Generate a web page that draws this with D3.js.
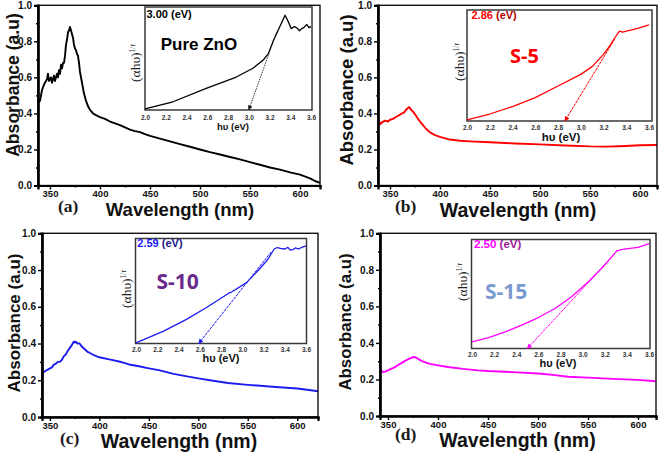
<!DOCTYPE html>
<html><head><meta charset="utf-8">
<script src="https://cdn.jsdelivr.net/npm/d3@7"></script>
<style>body{margin:0;background:#fff}</style>
</head><body>
<svg id="chart" width="661" height="452"></svg>
<script>
// ---------- DATA ----------
const yTicks = [0.0, 0.2, 0.4, 0.6, 0.8, 1.0];
const yMinorTicks = [0.1, 0.3, 0.5, 0.7, 0.9];
const xTicks = [350, 400, 450, 500, 550, 600];
const xMinorTicks = [375, 425, 475, 525, 575];
const insetTicks = [2.0, 2.2, 2.4, 2.6, 2.8, 3.0, 3.2, 3.4, 3.6];
const panelLetters = ["(a)", "(b)", "(c)", "(d)"];
const sampleNames = ["Pure ZnO", "S-5", "S-10", "S-15"];
const bandGaps = ["3.00", "2.86", "2.59", "2.50"];

// (a) Pure ZnO
const wlA = [338,340,342,344,345,347,348,349,351,352,354,355,357,358,359,360,361,362,363,364,365,366,367,368,369,370,371,372,373,374,375,376,377,378,379,380,382,384,386,388,390,393,396,400,405,410,415,420,425,430,435,440,445,450,460,470,480,490,500,510,520,530,540,550,560,570,580,590,600,610,615,620];
const absA = [0.46,0.47,0.53,0.56,0.57,0.59,0.62,0.58,0.60,0.57,0.61,0.58,0.62,0.60,0.64,0.62,0.67,0.65,0.68,0.68,0.72,0.78,0.81,0.85,0.86,0.88,0.86,0.84,0.82,0.78,0.76,0.75,0.73,0.72,0.68,0.63,0.57,0.51,0.47,0.44,0.42,0.40,0.39,0.38,0.37,0.355,0.345,0.335,0.322,0.31,0.302,0.296,0.285,0.275,0.26,0.245,0.23,0.215,0.20,0.185,0.172,0.158,0.145,0.13,0.115,0.10,0.088,0.073,0.06,0.04,0.025,0.015];
const hvA = [2.0,2.27,2.59,2.88,3.04,3.14,3.19,3.24,3.30,3.35,3.38,3.41,3.44,3.46,3.49,3.51,3.53,3.56,3.58,3.6];
const tlA = [0.01,0.08,0.21,0.32,0.405,0.485,0.55,0.68,0.81,0.92,0.86,0.79,0.81,0.80,0.77,0.79,0.80,0.83,0.80,0.81];
const tangentHvA = [3.27, 3.00];
const tangentTlA = [0.76, 0.0];

// (b) S-5
const wlB = [338,339,340,342,345,348,350,353,356,359,362,364,366,368,369,370,371,373,375,378,380,383,386,390,395,400,410,420,430,450,475,500,525,550,565,580,600,617];
const absB = [0.35,0.36,0.34,0.35,0.36,0.355,0.365,0.37,0.38,0.39,0.40,0.405,0.42,0.43,0.435,0.43,0.42,0.41,0.395,0.37,0.355,0.335,0.315,0.295,0.28,0.27,0.255,0.248,0.245,0.24,0.233,0.228,0.222,0.217,0.216,0.218,0.223,0.225];
const hvB = [2.0,2.2,2.4,2.6,2.8,3.0,3.1,3.2,3.25,3.3,3.34,3.37,3.4,3.45,3.5,3.55,3.6];
const tlB = [0.01,0.063,0.13,0.21,0.315,0.42,0.49,0.60,0.67,0.75,0.81,0.80,0.81,0.82,0.835,0.85,0.865];
const tangentHvB = [3.30, 2.86];
const tangentTlB = [0.74, 0.0];

// (c) S-10
const wlC = [342,343,345,347,350,352,354,356,358,360,362,364,366,368,370,372,374,375,376,378,380,382,385,388,390,395,400,410,420,425,430,440,450,460,475,490,500,515,530,550,575,600,610,621];
const absC = [0.20,0.24,0.25,0.255,0.265,0.27,0.285,0.29,0.30,0.30,0.31,0.33,0.34,0.36,0.375,0.39,0.41,0.405,0.41,0.40,0.40,0.385,0.37,0.355,0.35,0.335,0.325,0.314,0.302,0.295,0.286,0.276,0.265,0.255,0.235,0.22,0.21,0.197,0.185,0.175,0.165,0.155,0.148,0.14];
const hvC = [2.0,2.26,2.475,2.66,2.88,2.9,3.04,3.16,3.24,3.30,3.33,3.36,3.4,3.43,3.45,3.48,3.5,3.53,3.56,3.6];
const tlC = [0.006,0.118,0.23,0.34,0.484,0.49,0.58,0.707,0.80,0.90,0.914,0.905,0.90,0.915,0.89,0.895,0.91,0.90,0.915,0.93];
const tangentHvC = [3.27, 2.59];
const tangentTlC = [0.87, 0.0];

// (d) S-15
const wlD = [342,343,345,347,350,353,356,359,362,365,368,371,374,376,378,381,384,388,392,400,410,425,440,450,475,500,515,530,550,575,600,618];
const absD = [0.265,0.25,0.24,0.243,0.25,0.258,0.265,0.275,0.285,0.295,0.305,0.313,0.32,0.323,0.32,0.31,0.30,0.292,0.285,0.277,0.268,0.258,0.25,0.246,0.24,0.233,0.225,0.215,0.21,0.203,0.198,0.19];
const hvD = [2.0,2.15,2.30,2.45,2.60,2.75,2.90,3.05,3.17,3.25,3.31,3.35,3.41,3.50,3.56,3.6];
const tlD = [0.06,0.10,0.153,0.214,0.284,0.367,0.474,0.61,0.734,0.826,0.896,0.908,0.917,0.927,0.948,0.963];
const tangentHvD = [3.22, 2.50];
const tangentTlD = [0.79, 0.0];

// ---------- STYLE / LAYOUT ----------
const curveColors = ["#000000", "#ff0000", "#1c1cf0", "#ff00ff"];
const gapColors = ["#000000", "#ff0000", "#1a1aff", "#ff00ff"];
const evColors = ["#000000", "#b00000", "#16168a", "#9a1496"];
const nameColors = ["#000000", "#ff0000", "#6a2a8c", "#7a9ad0"];
const nameFonts = ["'Liberation Sans', Arial, sans-serif", "'Open Sans', sans-serif", "'Open Sans', sans-serif", "'Open Sans', sans-serif"];

const layouts = [
  {l:38, r:320, t:5.3, b:185.5, xd:[338,620], pad:1, let:{x:58,y:211.5}, xt:{cx:180,y:216,fs:18.5}, yt:{x:19.3,cy:85,fs:17.6},
   ins:{l:145,r:312,t:7,b:110,x0:145,x1:311,tickY:119.5,htX:233,htY:129.5,htFs:9.5,ylX:140,ylY:63,gX:146.5,gY:18.3,gFs:11,nX:160.7,nY:50,nFs:17}},
  {l:378, r:657, t:5.3, b:185.5, xd:[338,617], pad:1, let:{x:395,y:211.5}, xt:{cx:518,y:216.5,fs:19.5}, yt:{x:353,cy:90,fs:18.5},
   ins:{l:467,r:652,t:10,b:121,x0:467,x1:649,tickY:130,htX:561,htY:140.5,htFs:11.5,ylX:464,ylY:62,gX:471.5,gY:19.3,gFs:11,nX:510,nY:63.3,nFs:20}},
  {l:42, r:318, t:233.3, b:417, xd:[342,621], pad:1, let:{x:60,y:443.5}, xt:{cx:179,y:447.5,fs:19.5}, yt:{x:19.5,cy:323,fs:17},
   ins:{l:135.5,r:306.5,t:238.5,b:343.5,x0:136,x1:306,tickY:352,htX:221,htY:361.5,htFs:11,ylX:130.5,ylY:289,gX:137.3,gY:246.7,gFs:11,nX:156.5,nY:288.7,nFs:21}},
  {l:380, r:656, t:233.3, b:416, xd:[342,618], pad:1, let:{x:395,y:440}, xt:{cx:517.5,y:446.5,fs:19.5}, yt:{x:351,cy:322,fs:16.8},
   ins:{l:471.5,r:650,t:239.5,b:348.5,x0:472,x1:649,tickY:357,htX:558,htY:366.5,htFs:11,ylX:466.5,ylY:282,gX:474,gY:248.3,gFs:11.5,nX:485,nY:299.3,nFs:21}}
];

const panels = [
  {wl:wlA, ab:absA, hv:hvA, tl:tlA, th:tangentHvA, tt:tangentTlA},
  {wl:wlB, ab:absB, hv:hvB, tl:tlB, th:tangentHvB, tt:tangentTlB},
  {wl:wlC, ab:absC, hv:hvC, tl:tlC, th:tangentHvC, tt:tangentTlC},
  {wl:wlD, ab:absD, hv:hvD, tl:tlD, th:tangentHvD, tt:tangentTlD}
];

const svg = d3.select("#chart");
svg.append("rect").attr("width",661).attr("height",452).attr("fill","#fff");
const defs = svg.append("defs");
curveColors.forEach((c,i) => {
  defs.append("marker").attr("id","arr"+i).attr("viewBox","0 0 10 10").attr("refX",9).attr("refY",5)
    .attr("markerWidth",5).attr("markerHeight",5).attr("orient","auto-start-reverse")
    .append("path").attr("d","M0,0L10,5L0,10z").attr("fill", i===0 ? "#222" : c);
});

const sans = "'Liberation Sans', Arial, sans-serif";

panels.forEach((p, i) => {
  const L = layouts[i];
  const g = svg.append("g");
  const x = d3.scaleLinear().domain(L.xd).range([L.l, L.r]);
  const y = d3.scaleLinear().domain([0, 1]).range([L.b, L.t]);

  const line = d3.line().x((d,k) => x(p.wl[k])).y((d,k) => y(p.ab[k]));
  g.append("path").datum(p.wl).attr("d", line).attr("fill","none")
    .attr("stroke", curveColors[i]).attr("stroke-width", 1.9).attr("stroke-linejoin","round");

  g.append("rect").attr("x",L.l).attr("y",L.t).attr("width",L.r-L.l).attr("height",L.b-L.t)
    .attr("fill","none").attr("stroke","#111").attr("stroke-width",1.4);

  const ax = g.append("g").attr("transform",`translate(0,${L.b})`)
    .call(d3.axisBottom(x).tickValues(xTicks).tickSize(4).tickPadding(L.pad).tickFormat(d3.format("d")));
  g.append("g").attr("transform",`translate(0,${L.b})`)
    .call(d3.axisBottom(x).tickValues(xMinorTicks).tickSize(2).tickFormat(""));
  const ay = g.append("g").attr("transform",`translate(${L.l},0)`)
    .call(d3.axisLeft(y).tickValues(yTicks).tickSize(4).tickPadding(2).tickFormat(d3.format(".1f")));
  g.append("g").attr("transform",`translate(${L.l},0)`)
    .call(d3.axisLeft(y).tickValues(yMinorTicks).tickSize(2).tickFormat(""));
  g.selectAll(".domain").attr("stroke","#000").attr("stroke-width",2.2);
  g.selectAll(".tick line").attr("stroke","#000").attr("stroke-width",1.4);
  ax.selectAll("text").attr("font-family",sans).attr("font-weight","bold").attr("font-size",9.5).attr("fill","#111");
  ay.selectAll("text").attr("font-family",sans).attr("font-weight","bold").attr("font-size",10).attr("fill","#111");

  g.append("text").attr("x",L.let.x).attr("y",L.let.y).text(panelLetters[i])
    .attr("font-family","'Liberation Serif', 'Times New Roman', serif").attr("font-weight","bold")
    .attr("font-size",17.5).attr("fill","#1a1a1a");
  g.append("text").attr("x",L.xt.cx).attr("y",L.xt.y).attr("text-anchor","middle").text("Wavelength (nm)")
    .attr("font-family",sans).attr("font-weight","bold").attr("font-size",L.xt.fs).attr("fill","#111");
  g.append("text").attr("transform",`translate(${L.yt.x},${L.yt.cy}) rotate(-90)`).attr("text-anchor","middle")
    .text("Absorbance (a.u)").attr("font-family",sans).attr("font-weight","bold").attr("font-size",L.yt.fs).attr("fill","#111");

  // ---------- inset ----------
  const I = L.ins;
  const gi = svg.append("g");
  gi.append("rect").attr("x",I.l).attr("y",I.t).attr("width",I.r-I.l).attr("height",I.b-I.t)
    .attr("fill","#fff").attr("stroke","#3a3a3a").attr("stroke-width",1.5);
  const xi = d3.scaleLinear().domain([2.0, 3.6]).range([I.x0, I.x1]);
  const yi = d3.scaleLinear().domain([0, 1]).range([I.b, I.t]);
  const axi = gi.append("g").attr("transform",`translate(0,${I.b})`)
    .call(d3.axisBottom(xi).tickValues(insetTicks).tickSize(0).tickPadding(0).tickFormat(d3.format(".1f")));
  axi.select(".domain").remove();
  axi.selectAll("text").attr("dy",null).attr("y", I.tickY - I.b)
    .attr("font-family",sans).attr("font-weight","bold").attr("font-size",6.5).attr("fill","#333");
  const il = d3.line().x((d,k) => xi(p.hv[k])).y((d,k) => yi(p.tl[k]));
  gi.append("path").datum(p.hv).attr("d", il).attr("fill","none")
    .attr("stroke", curveColors[i]).attr("stroke-width", 1.3).attr("stroke-linejoin","round");
  gi.append("line").attr("x1",xi(p.th[0])).attr("y1",yi(p.tt[0])).attr("x2",xi(p.th[1])).attr("y2",yi(p.tt[1]))
    .attr("stroke", i===0 ? "#333" : curveColors[i]).attr("stroke-width",1).attr("stroke-dasharray", i===0 ? "1.5,1" : "3,0.8")
    .attr("marker-end",`url(#arr${i})`);

  gi.append("text").attr("x",I.htX).attr("y",I.htY).attr("text-anchor","middle").text("hυ (eV)")
    .attr("font-family",sans).attr("font-weight","bold").attr("font-size",I.htFs).attr("fill","#111");
  const yl = gi.append("text").attr("transform",`translate(${I.ylX},${I.ylY}) rotate(-90)`).attr("text-anchor","middle")
    .attr("font-family","'Liberation Serif', 'Times New Roman', serif").attr("font-size",13.5).attr("fill","#222");
  yl.append("tspan").text("(αhυ)");
  yl.append("tspan").attr("dy",-5).attr("font-size",7.5).text("1/r");
  const gt = gi.append("text").attr("x",I.gX).attr("y",I.gY).attr("font-family",sans).attr("font-weight","bold").attr("font-size",I.gFs);
  gt.append("tspan").attr("fill",gapColors[i]).text(bandGaps[i]);
  gt.append("tspan").attr("fill",evColors[i]).text(" (eV)");
  gi.append("text").attr("x",I.nX).attr("y",I.nY).text(sampleNames[i])
    .attr("font-family",nameFonts[i]).attr("font-weight","bold").attr("font-size",I.nFs).attr("fill",nameColors[i]);
});
</script>
</body></html>
